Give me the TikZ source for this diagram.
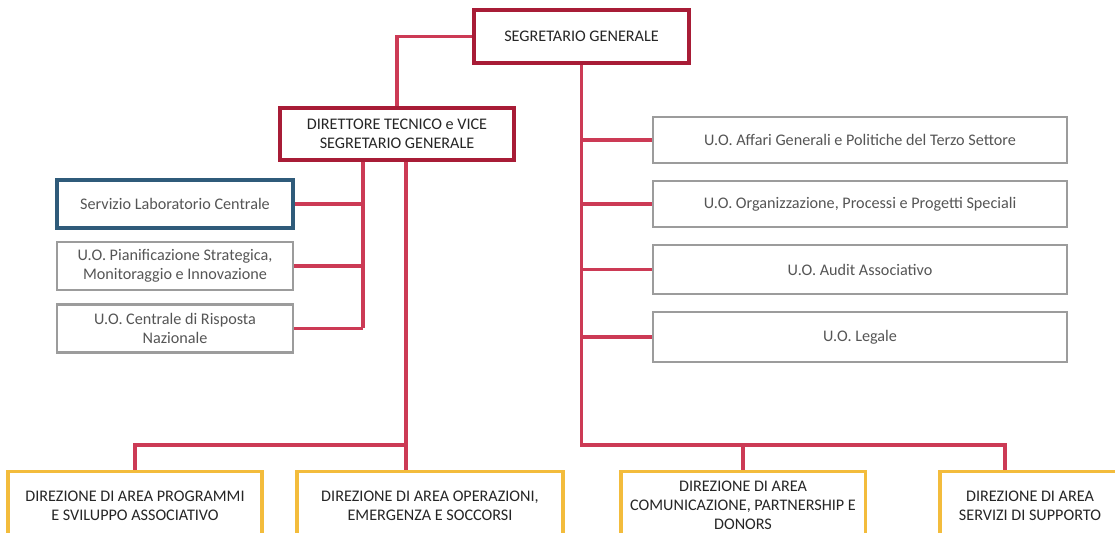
\documentclass[tikz,border=0pt]{standalone}
\usepackage{fontspec}
\setmainfont{Carlito}
\usepackage{tikz}
\usetikzlibrary{calc,positioning}
\definecolor{linkred}{HTML}{CC3A55}
\definecolor{topred}{HTML}{A81C36}
\definecolor{uogray}{HTML}{9C9C9C}
\definecolor{uotext}{HTML}{555555}
\definecolor{areagold}{HTML}{F3BC3C}
\definecolor{labblue}{HTML}{2F5B7A}
\tikzset{
    every node/.style={font=\rmfamily\fontsize{11.5}{13.6}\selectfont,align=center,inner sep=2pt},
    top node/.style={draw=topred,line width=2.8pt,text=black!85},
    uo node/.style={draw=uogray,line width=2pt,text=uotext},
    lab node/.style={draw=labblue,line width=2.2pt,text=uotext},
    area node/.style={draw=areagold,line width=2.2pt,text=black!85,anchor=north,minimum height=1.7cm},
    link/.style={draw=linkred,line width=2.2pt}
}

\begin{document}
\begin{tikzpicture}[x=0.025cm,y=-0.025cm]

    \clip (0,0) rectangle (1115,532);
    \fill[white] (0,0) rectangle (1115,532);

    \node[top node,minimum width=5.375cm,minimum height=1.325cm] (sg) at (581.5,36.5) {SEGRETARIO GENERALE};
    \node[top node,minimum width=5.85cm,minimum height=1.3cm] (dt) at (397,134) {DIRETTORE TECNICO e VICE\\SEGRETARIO GENERALE};

    \node[lab node,minimum width=5.9cm,minimum height=1.2cm] (lab) at (175,204) {Servizio Laboratorio Centrale};
    \node[uo node,minimum width=5.9cm,minimum height=1.2cm] (pian) at (175,266) {U.O. Pianificazione Strategica,\\Monitoraggio e Innovazione};
    \node[uo node,minimum width=5.9cm,minimum height=1.2cm] (cen) at (175,328.5) {U.O. Centrale di Risposta\\Nazionale};

    \node[uo node,minimum width=10.35cm,minimum height=1.15cm] (aff) at (860,140) {U.O. Affari Generali e Politiche del Terzo Settore};
    \node[uo node,minimum width=10.35cm,minimum height=1.15cm] (org) at (860,204) {U.O. Organizzazione, Processi e Progetti Speciali};
    \node[uo node,minimum width=10.35cm,minimum height=1.225cm] (aud) at (860,269.5) {U.O. Audit Associativo};
    \node[uo node,minimum width=10.35cm,minimum height=1.25cm] (leg) at (860,337) {U.O. Legale};

    \node[area node,minimum width=6.35cm] (prog) at (135,470) {DIREZIONE DI AREA PROGRAMMI\\E SVILUPPO ASSOCIATIVO};
    \node[area node,minimum width=6.65cm] (oper) at (430,470) {DIREZIONE DI AREA OPERAZIONI,\\EMERGENZA E SOCCORSI};
    \node[area node,minimum width=6.1cm] (com) at (743,470) {DIREZIONE DI AREA\\COMUNICAZIONE, PARTNERSHIP E\\DONORS};
    \node[area node,minimum width=4.5cm] (serv) at (1030,470) {DIREZIONE DI AREA\\SERVIZI DI SUPPORTO};

    \coordinate (lbus) at (363,327.5);
    \coordinate (bbus) at (406,445);
    \coordinate (rbus) at (581.5,445);
    \coordinate (sdrop) at (1005,445);

    \draw[link] (sg.west) -| (dt.north);
    \draw[link] (sg.south) -- (rbus) -- (sdrop) -- (sdrop |- serv.north);
    \draw[link] (rbus -| com.north) -- (com.north);
    \foreach \n in {aff,org,aud,leg}
        \draw[link] (\n.west) -- (\n.west -| rbus);

    \draw[link] (dt.south -| lbus) -- (lbus);
    \foreach \n in {lab,pian,cen}
        \draw[link] (\n.east) -- (\n.east -| lbus);
    \draw[link] (dt.south -| bbus) -- (oper.north -| bbus);
    \draw[link] (bbus) -| (prog.north);
  \end{tikzpicture}
\end{document}
